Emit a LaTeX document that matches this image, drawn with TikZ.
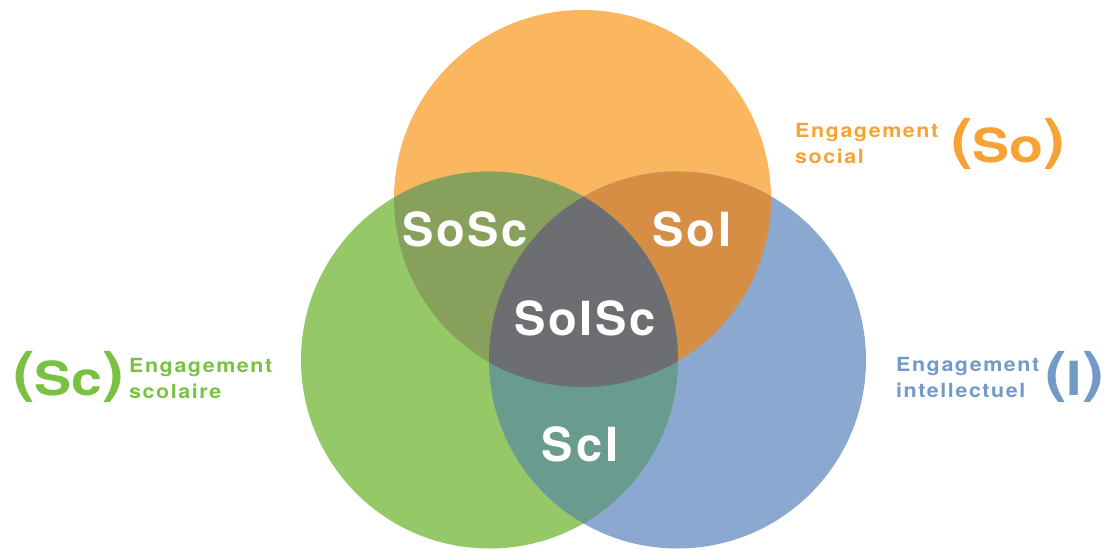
\documentclass[tikz,border=0pt]{standalone}
\usepackage{fontspec}
\setmainfont{TeX Gyre Heros}
\newfontfamily\tagfont{TeX Gyre Heros}[FakeStretch=1.1,LetterSpace=8]
\newfontfamily\zonefont{TeX Gyre Heros}[LetterSpace=6]
\newfontfamily\bigfont{TeX Gyre Heros}[FakeStretch=1.18]
\usepackage{tikz}
\usetikzlibrary{positioning}

\definecolor{sofill}{HTML}{FBB660}
\definecolor{scfill}{HTML}{95C967}
\definecolor{ifill}{HTML}{8BA9D0}
\definecolor{soscfill}{HTML}{87A15D}
\definecolor{soifill}{HTML}{D68D44}
\definecolor{scifill}{HTML}{699B8F}
\definecolor{soiscfill}{HTML}{6D6E71}
\definecolor{sotext}{HTML}{F6A336}
\definecolor{sctext}{HTML}{7AC143}
\definecolor{itext}{HTML}{7399C6}

\newcommand{\bigpar}[1]{{\fontsize{55}{55}\selectfont\raisebox{4pt}{#1}}}
\newcommand{\bigtag}[1]{\bigpar{(}#1\bigpar{)}}

\begin{document}
\begin{tikzpicture}[x=1pt,y=-1pt,
  zone/.style={text=white,font=\zonefont\fontsize{47}{47}\selectfont\bfseries},
  tag/.style={font=\tagfont\fontsize{19.5}{19.5}\selectfont\bfseries,anchor=base west,inner sep=0pt},
  big/.style={font=\bigfont\fontsize{47}{47}\selectfont\bfseries,anchor=base west,inner sep=0pt}]
\useasboundingbox (0,0) rectangle (1117,550);
\coordinate (so) at (582.5,198.5);
\coordinate (sc) at (489.5,360);
\coordinate (i) at (677.5,360);
\def\rad{188.5pt}
\fill[sofill] (so) circle [radius=\rad];
\fill[scfill] (sc) circle [radius=\rad];
\fill[ifill] (i) circle [radius=\rad];
\begin{scope}
\clip (so) circle [radius=\rad];
\fill[soscfill] (sc) circle [radius=\rad];
\fill[soifill] (i) circle [radius=\rad];
\end{scope}
\begin{scope}
\clip (sc) circle [radius=\rad];
\fill[scifill] (i) circle [radius=\rad];
\clip (i) circle [radius=\rad];
\fill[soiscfill] (so) circle [radius=\rad];
\end{scope}
\node[zone] (sosc) at (465,229) {SoSc};
\node[zone] (soi) at (692,229) {SoI};
\node[zone] (soisc) at (585,318) {SoISc};
\node[zone] (sci) at (580,444) {ScI};
\node[tag,text=sotext] (soa) at (795,137) {Engagement};
\node[tag,text=sotext] (sob) at (795,163) {social};
\node[big,text=sotext] (sobig) at (951,162) {\bigtag{So}};
\node[tag,text=sctext] (sca) at (129,372) {Engagement};
\node[tag,text=sctext] (scb) at (129,398) {scolaire};
\node[big,text=sctext] (scbig) at (13,395) {\bigtag{Sc}};
\node[tag,text=itext] (ia) at (896,371) {Engagement};
\node[tag,text=itext] (ib) at (896,397) {intellectuel};
\node[big,text=itext] (ibig) at (1045,395) {\bigtag{I}};
\end{tikzpicture}
\end{document}
